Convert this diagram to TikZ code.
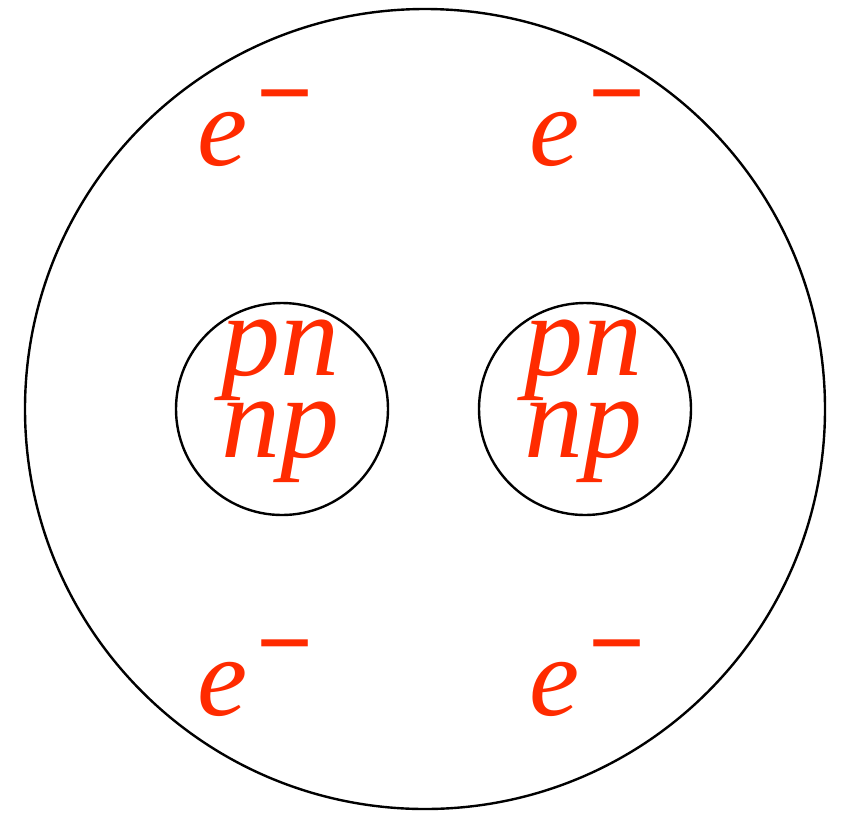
\documentclass[tikz,border=0pt]{standalone}
\usepackage{fontspec}
\setmainfont{Liberation Serif}
\definecolor{particle}{HTML}{FF2B00}
\newcommand{\elec}{\textit{e}\kern9pt\raisebox{39pt}{\fontsize{100}{100}\selectfont\textbf{−}}}
\tikzset{
  shell/.style={draw, circle, line width=2.4pt, inner sep=0pt},
  label/.style={text=particle, inner sep=0pt, anchor=base, align=center,
                font=\fontsize{118}{77}\selectfont\itshape},
  eleclabel/.style={text=particle, inner sep=0pt, anchor=base west,
                font=\fontsize{113}{113}\selectfont},
}
\begin{document}
\begin{tikzpicture}[x=1pt, y=-1pt]
    \useasboundingbox (0,0) rectangle (845,812);
    \node[shell, minimum size=800pt] (atom) at (425,409) {};
    \node[shell, minimum size=212pt] (nucL) at (282,409) {};
    \node[shell, minimum size=212pt] (nucR) at (585,409) {};
    \node[label] (pairL) at (280,457) {pn\\np};
    \node[label] (pairR) at (583,457) {pn\\np};
    \node[eleclabel] (e1) at (197,165) {\elec};
    \node[eleclabel] (e2) at (529,165) {\elec};
    \node[eleclabel] (e3) at (197,715) {\elec};
    \node[eleclabel] (e4) at (529,715) {\elec};
  \end{tikzpicture}
\end{document}
